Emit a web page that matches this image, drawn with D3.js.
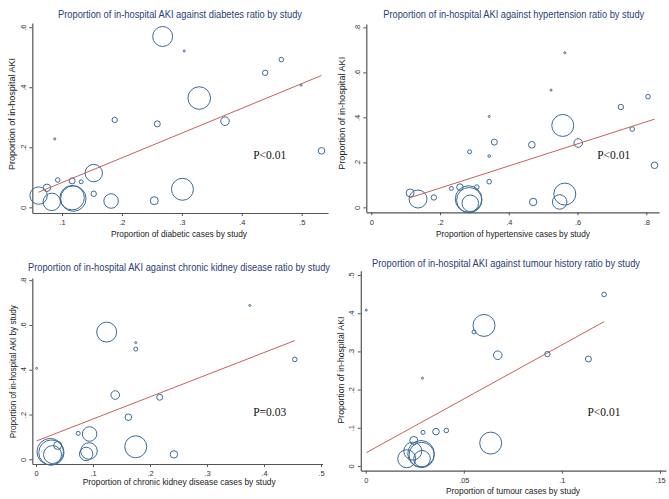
<!DOCTYPE html>
<html><head><meta charset="utf-8">
<script src="https://cdn.jsdelivr.net/npm/d3@7"></script>
<style>
html,body{margin:0;padding:0;background:#fff;}
svg{display:block;}
</style></head>
<body>
<svg id="chart" width="669" height="499"></svg>
<script>
// ---------- DATA ----------
// Panel 1: diabetes
const diabX = [0.268,0.304,0.466,0.439,0.499,0.329,0.372,0.188,0.259,0.088,0.533,0.153,0.093,0.117,0.132,0.075,0.301,0.061,0.153,0.083,0.119,0.117,0.182,0.254];
const diabY = [0.569,0.521,0.492,0.448,0.407,0.364,0.287,0.291,0.278,0.228,0.188,0.114,0.091,0.088,0.085,0.065,0.060,0.039,0.045,0.018,0.029,0.032,0.021,0.022];
const diabW = [100,1,5.3,7.3,1,128,18.5,7.3,9,1,10.9,76,5.3,9,4,13.7,121,76,7.3,76,162,150,53,16];
const diabFit = [0.000, 0.824];
const diabXTicks = [0.1,0.2,0.3,0.4,0.5];
const diabYTicks = [0,0.2,0.4,0.6];

// Panel 2: hypertension
const htnX = [0.563,0.523,0.805,0.726,0.343,0.759,0.557,0.602,0.358,0.467,0.286,0.343,0.824,0.343,0.113,0.136,0.182,0.233,0.258,0.307,0.283,0.285,0.288,0.471,0.548,0.563];
const htnY = [0.687,0.521,0.492,0.446,0.404,0.348,0.364,0.286,0.290,0.278,0.247,0.228,0.187,0.114,0.064,0.037,0.044,0.084,0.090,0.090,0.037,0.032,0.018,0.024,0.024,0.059];
const htnW = [1,1,5.3,7.3,1,5.3,121,18.5,9,10.9,4,1.7,10.9,5.3,16,81,7.3,4,10.9,5.3,177,160,69,13.7,53,121];
const htnFit = [-0.0125, 0.491];
const htnXTicks = [0,0.2,0.4,0.6,0.8];
const htnYTicks = [0,0.2,0.4,0.6,0.8];

// Panel 3: chronic kidney disease
const ckdX = [0.375,0.175,0.175,0.124,0.454,0.001,0.139,0.217,0.162,0.074,0.094,0.038,0.175,0.093,0.088,0.242,0.025,0.027,0.029];
const ckdY = [0.687,0.521,0.492,0.568,0.446,0.406,0.287,0.277,0.188,0.116,0.113,0.062,0.056,0.037,0.024,0.022,0.034,0.030,0.021];
const ckdW = [1,1,4,100,5.3,1,18.5,9,10.9,4,53,16,121,69,45,13.7,177,160,81];
const ckdFit = [0.081, 0.989];
const ckdXTicks = [0,0.1,0.2,0.3,0.4,0.5];
const ckdYTicks = [0,0.2,0.4,0.6,0.8];

// Panel 4: tumour history
const tumX = [0.1215,0.0003,0.0603,0.0552,0.0673,0.0926,0.1135,0.0289,0.0292,0.0358,0.0411,0.0245,0.0637,0.024,0.0209,0.0282,0.0285,0.0287];
const tumY = [0.449,0.408,0.368,0.351,0.290,0.293,0.280,0.230,0.088,0.090,0.093,0.067,0.060,0.039,0.019,0.032,0.029,0.019];
const tumW = [5.3,1,121,4,18.5,7.3,9,1,4,10.9,5.3,16,121,81,81,177,160,69];
const tumFit = [0.034, 2.83];
const tumXTicks = [0,0.05,0.1,0.15];
const tumYTicks = [0,0.1,0.2,0.3,0.4,0.5];

const titles = [
  "Proportion of in-hospital AKI against diabetes ratio by study",
  "Proportion of in-hospital AKI against hypertension ratio by study",
  "Proportion of in-hospital AKI against chronic kidney disease ratio by study",
  "Proportion of in-hospital AKI against tumour history ratio by study"
];
const xTitles = [
  "Proportion of diabetic cases by study",
  "Proportion of hypertensive cases by study",
  "Proportion of chronic kidney disease cases by study",
  "Proportion of tumour cases by study"
];
const yTitles = [
  "Proportion of in-hospital AKI",
  "Proportion of in-hospital AKI",
  "Proportion of in-hospital AKI by study",
  "Proportion of in-hospital AKI"
];
const pLabels = ["P<0.01","P<0.01","P=0.03","P<0.01"];
const pLabelAt = [[0.419,0.16],[0.657,0.216],[0.381,0.195],[0.113,0.132]];

// ---------- LAYOUT ----------
const panels = [
  {x:diabX,y:diabY,w:diabW,fit:diabFit,xt:diabXTicks,yt:diabYTicks,
   xd:[0.0505,0.544],xr:[32.3,328.1],yd:[-0.019,0.614],yr:[213,23],
   title:{cx:180,y:18,len:244}, xt2:{cx:179,y:237,len:136}, yt2:{x:14.5,cy:114,len:112}},
  {x:htnX,y:htnY,w:htnW,fit:htnFit,xt:htnXTicks,yt:htnYTicks,
   xd:[-0.0145,0.837],xr:[366.3,659],yd:[-0.022,0.815],yr:[212.3,24],
   title:{cx:513.7,y:18,len:261}, xt2:{cx:513,y:236.5,len:154}, yt2:{x:345,cy:113.3,len:113}},
  {x:ckdX,y:ckdY,w:ckdW,fit:ckdFit,xt:ckdXTicks,yt:ckdYTicks,
   xd:[-0.0065,0.503],xr:[32.3,322.7],yd:[-0.021,0.81],yr:[464,277.9],
   title:{cx:179,y:270.5,len:302}, xt2:{cx:179.2,y:485,len:193}, yt2:{x:16,cy:371.7,len:133}},
  {x:tumX,y:tumY,w:tumW,fit:tumFit,xt:tumXTicks,yt:tumYTicks,
   xd:[-0.0025,0.153],xr:[360.8,665.9],yd:[-0.012,0.511],yr:[470.6,270.8],
   title:{cx:506,y:267,len:268}, xt2:{cx:513,y:494,len:134}, yt2:{x:344,cy:370,len:107}}
];

const svg = d3.select("#chart");
const fmt = v => v === 0 ? "0" : d3.format("")(v).replace(/^0\./, ".");
const rScale = d3.scaleSqrt().domain([0,180]).range([0,13.4]);
const markerColor = "#3a6a9b";
const fitColor = "#c9605c";
const titleColor = "#2b3d78";
const axisColor = "#555";

panels.forEach((p,i) => {
  const x = d3.scaleLinear().domain(p.xd).range(p.xr);
  const y = d3.scaleLinear().domain(p.yd).range(p.yr);
  const g = svg.append("g");

  // axes
  const xAxis = g.append("g").attr("transform",`translate(0,${p.yr[0]})`)
    .call(d3.axisBottom(x).tickValues(p.xt).tickFormat(fmt).tickSize(3).tickSizeOuter(0).tickPadding(4));
  const yAxis = g.append("g").attr("transform",`translate(${p.xr[0]},0)`)
    .call(d3.axisLeft(y).tickValues(p.yt).tickFormat(fmt).tickSize(3).tickSizeOuter(0));
  [xAxis,yAxis].forEach(a => {
    a.select(".domain").attr("stroke",axisColor).attr("stroke-width",1.2);
    a.selectAll(".tick line").attr("stroke",axisColor);
    a.selectAll("text").attr("fill","#333").style("font-family","Liberation Sans, Arial, sans-serif").style("font-size","7.5px");
  });
  yAxis.selectAll(".tick text")
    .attr("x",0).attr("dy",0).attr("text-anchor","middle")
    .attr("transform","translate(-6.8,0) rotate(-90)");

  // bubbles
  const pts = p.x.map((v,k) => ({x:v,y:p.y[k],w:p.w[k]}));
  g.append("g").selectAll("circle").data(pts).join("circle")
    .attr("cx",d=>x(d.x)).attr("cy",d=>y(d.y))
    .attr("r",d=>Math.max(0.9,rScale(d.w)))
    .attr("fill","none").attr("stroke",markerColor).attr("stroke-width",1);

  // fit line
  const [xmin,xmax] = d3.extent(p.x);
  g.append("line")
    .attr("x1",x(xmin)).attr("y1",y(p.fit[0]+p.fit[1]*xmin))
    .attr("x2",x(xmax)).attr("y2",y(p.fit[0]+p.fit[1]*xmax))
    .attr("stroke",fitColor).attr("stroke-width",1);

  // P label
  g.append("text").attr("x",x(pLabelAt[i][0])).attr("y",y(pLabelAt[i][1]))
    .text(pLabels[i]).attr("fill","#111")
    .style("font-family","Liberation Serif, Times New Roman, serif").style("font-size","11.5px");

  // titles
  g.append("text").attr("x",p.title.cx).attr("y",p.title.y).attr("text-anchor","middle")
    .attr("textLength",p.title.len).attr("lengthAdjust","spacingAndGlyphs")
    .attr("fill",titleColor).style("font-family","Liberation Sans, Arial, sans-serif").style("font-size","10px")
    .text(titles[i]);
  g.append("text").attr("x",p.xt2.cx).attr("y",p.xt2.y).attr("text-anchor","middle")
    .attr("textLength",p.xt2.len).attr("lengthAdjust","spacingAndGlyphs")
    .attr("fill","#222").style("font-family","Liberation Sans, Arial, sans-serif").style("font-size","9.3px")
    .text(xTitles[i]);
  g.append("text").attr("transform",`translate(${p.yt2.x},${p.yt2.cy}) rotate(-90)`).attr("text-anchor","middle")
    .attr("textLength",p.yt2.len).attr("lengthAdjust","spacingAndGlyphs")
    .attr("fill","#222").style("font-family","Liberation Sans, Arial, sans-serif").style("font-size","9.3px")
    .text(yTitles[i]);
});
</script>
</body></html>
